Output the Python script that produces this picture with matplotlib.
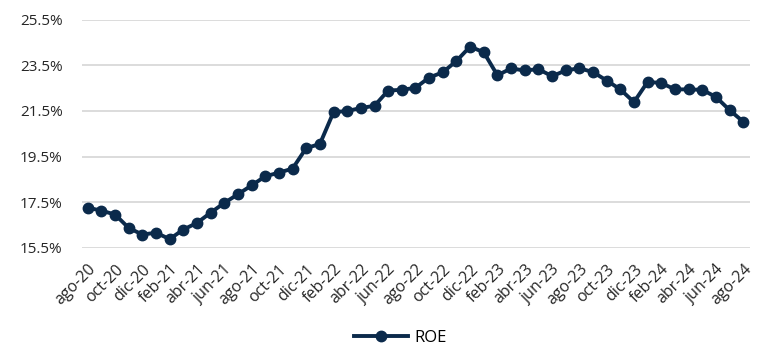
import matplotlib
matplotlib.use("Agg")
import matplotlib.pyplot as plt

months = ["ago-20", "sep-20", "oct-20", "nov-20", "dic-20", "ene-21", "feb-21", "mar-21",
          "abr-21", "may-21", "jun-21", "jul-21", "ago-21", "sep-21", "oct-21", "nov-21",
          "dic-21", "ene-22", "feb-22", "mar-22", "abr-22", "may-22", "jun-22", "jul-22",
          "ago-22", "sep-22", "oct-22", "nov-22", "dic-22", "ene-23", "feb-23", "mar-23",
          "abr-23", "may-23", "jun-23", "jul-23", "ago-23", "sep-23", "oct-23", "nov-23",
          "dic-23", "ene-24", "feb-24", "mar-24", "abr-24", "may-24", "jun-24", "jul-24",
          "ago-24"]

roe = [17.25, 17.12, 16.95, 16.36, 16.07, 16.15, 15.87, 16.29,
       16.58, 17.03, 17.46, 17.84, 18.23, 18.63, 18.79, 18.97,
       19.87, 20.05, 21.45, 21.50, 21.63, 21.73, 22.40, 22.43,
       22.52, 22.97, 23.20, 23.70, 24.33, 24.08, 23.07, 23.37,
       23.28, 23.34, 23.03, 23.28, 23.38, 23.21, 22.84, 22.45,
       21.89, 22.78, 22.73, 22.45, 22.45, 22.43, 22.12, 21.54,
       21.03]

y_ticks = [15.5, 17.5, 19.5, 21.5, 23.5, 25.5]

navy = "#0b2a4b"
plt.rcParams["font.family"] = ["Open Sans", "DejaVu Sans"]

fig = plt.figure(figsize=(7.6, 3.47), dpi=100)
ax = fig.add_axes([0.1079, 0.2867, 0.879, 0.6557])

x = list(range(len(months)))
ax.plot(x, roe, color=navy, lw=2.8, marker="o", ms=7.5, label="ROE", zorder=3)

ax.set_ylim(15.5, 25.5)
ax.set_yticks(y_ticks)
ax.set_yticklabels([f"{v:.1f}%" for v in y_ticks], fontsize=11, color="#262626")
ax.set_xlim(-0.42, 48.5)
ax.set_xticks(x[::2])
ax.set_xticklabels(months[::2], rotation=45, ha="right", rotation_mode="anchor",
                   fontsize=11.5, color="#262626")
ax.tick_params(axis="y", length=0, pad=14)
ax.tick_params(axis="x", length=0, pad=10)
ax.grid(axis="y", color="#d9d9d9", lw=1.3)
ax.set_axisbelow(True)
for s in ax.spines.values():
    s.set_visible(False)

fig.legend(loc="center", bbox_to_anchor=(0.527, 0.027), frameon=False,
           fontsize=12, handlelength=3.2, handletextpad=0.4)

fig.savefig("out.png", dpi=100)
